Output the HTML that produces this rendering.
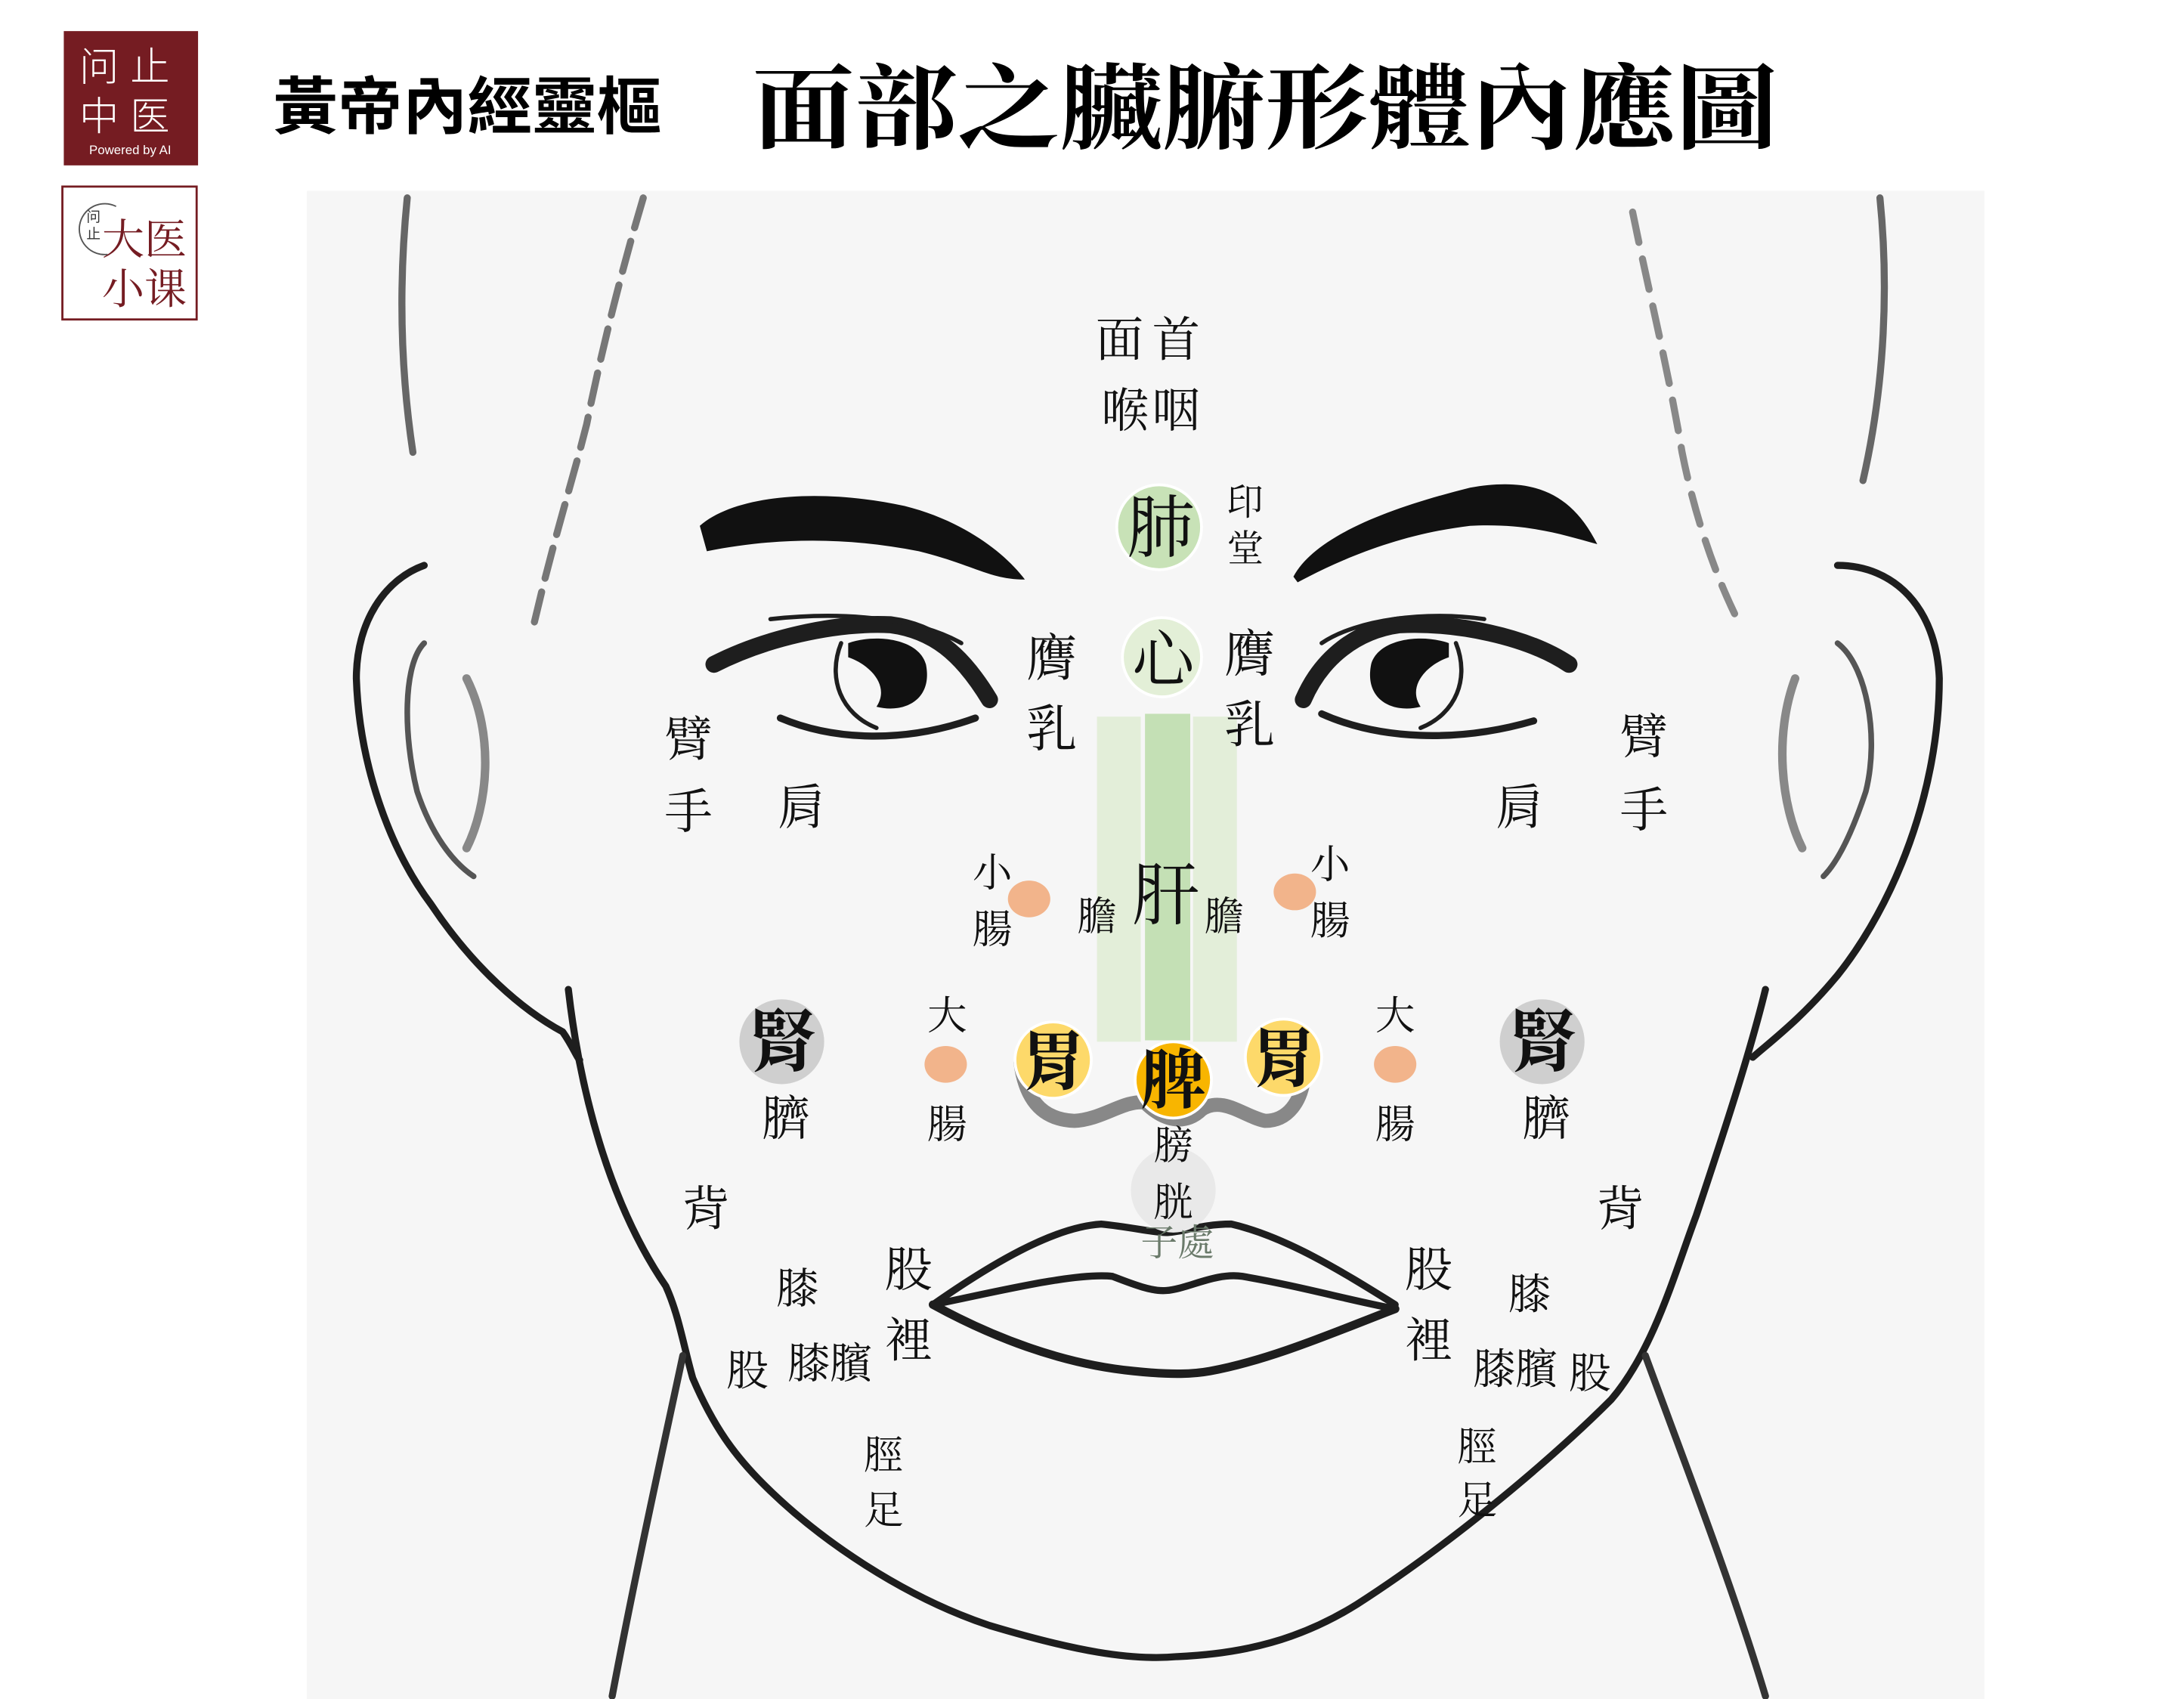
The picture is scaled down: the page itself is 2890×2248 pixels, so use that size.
<!DOCTYPE html>
<html><head><meta charset="utf-8"><style>
html,body{margin:0;padding:0;background:#fff;}
svg{display:block;}
.l{font-family:"Liberation Serif","Noto Serif CJK TC","Noto Serif CJK SC",serif;fill:#111;text-anchor:middle;}
</style></head><body>
<svg width="2890" height="2248" viewBox="0 0 1545 1202" xmlns="http://www.w3.org/2000/svg">
<rect x="0" y="0" width="1545" height="1202" fill="#fff"/>
<!-- logos -->
<rect x="45" y="22" width="95" height="95" fill="#751c22"/>
<text x="92" y="57" font-family="Liberation Sans,'Noto Sans CJK SC',sans-serif" font-size="28" fill="#fff" text-anchor="middle" font-weight="300" letter-spacing="8">问止</text>
<text x="92" y="92" font-family="Liberation Sans,'Noto Sans CJK SC',sans-serif" font-size="28" fill="#fff" text-anchor="middle" font-weight="300" letter-spacing="8">中医</text>
<text x="92" y="109" font-family="Liberation Sans,sans-serif" font-size="9" fill="#fff" text-anchor="middle">Powered by AI</text>
<rect x="44" y="132" width="95" height="94" fill="#fff" stroke="#751c22" stroke-width="1.5"/>
<path d="M82,146 A18,18 0 1 0 76,180" fill="none" stroke="#555" stroke-width="1"/>
<text x="66" y="157" font-family="'Noto Sans CJK SC',sans-serif" font-size="10" fill="#333" text-anchor="middle">问</text>
<text x="66" y="169" font-family="'Noto Sans CJK SC',sans-serif" font-size="10" fill="#333" text-anchor="middle">止</text>
<text x="102" y="180" font-family="'Noto Serif CJK SC',serif" font-size="30" fill="#751c22" text-anchor="middle">大医</text>
<text x="102" y="215" font-family="'Noto Serif CJK SC',serif" font-size="30" fill="#751c22" text-anchor="middle">小课</text>
<!-- titles -->
<text x="193" y="91" font-family="'Liberation Sans','Noto Sans CJK TC',sans-serif" font-size="44" font-weight="bold" textLength="275" lengthAdjust="spacingAndGlyphs">黃帝內經靈樞</text>
<text x="532" y="100" font-family="'Liberation Serif','Noto Serif CJK TC',serif" font-size="66" font-weight="700" textLength="726" lengthAdjust="spacingAndGlyphs">面部之臟腑形體內應圖</text>
<!-- picture background -->
<rect x="217" y="135" width="1187" height="1067" fill="#f6f6f6"/>
<g fill="none" stroke="#1e1e1e" stroke-width="5" stroke-linecap="round" stroke-linejoin="round">
<path d="M288,140 C282,200 283,260 292,320" stroke="#666"/>
<path d="M455,140 C440,190 425,250 415,300 C405,340 392,380 378,440" stroke="#777" stroke-dasharray="22 10"/>
<path d="M1330,140 C1336,200 1334,270 1318,340" stroke="#666"/>
<path d="M1155,150 C1165,200 1180,260 1190,320 C1200,370 1215,410 1230,440" stroke="#888" stroke-dasharray="22 12"/>
<path d="M300,400 C272,410 252,440 252,480 C254,540 275,600 305,640 C335,685 370,715 398,730 C405,740 408,748 410,750"/>
<path d="M300,455 C285,470 285,520 295,560 C305,590 320,610 335,620" stroke="#555" stroke-width="4"/>
<path d="M330,480 C350,520 345,570 330,600" stroke="#888" stroke-width="6"/>
<path d="M1300,400 C1340,400 1370,430 1372,480 C1372,560 1340,640 1300,690 C1275,720 1255,735 1240,748"/>
<path d="M1300,455 C1320,470 1330,520 1320,560 C1310,590 1300,610 1290,620" stroke="#555" stroke-width="4"/>
<path d="M1270,480 C1255,520 1260,570 1275,600" stroke="#888" stroke-width="6"/>
<path d="M402,700 C410,770 430,850 471,910 C480,930 483,950 490,975 C505,1010 520,1030 540,1050 C580,1090 640,1130 700,1150 C760,1168 800,1175 833,1172 C880,1170 920,1160 960,1135 C1030,1090 1100,1030 1140,990 C1170,955 1185,900 1200,860 C1220,800 1238,745 1249,700"/>
<path d="M483,959 C470,1020 450,1110 433,1200" stroke="#333"/>
<path d="M1164,959 C1190,1030 1225,1120 1249,1200" stroke="#333"/>
<path d="M660,923 C700,895 745,868 779,866 C800,868 815,872 825,872 C835,872 850,866 871,866 C910,875 950,900 987,923" stroke-width="5"/>
<path d="M660,923 C700,915 760,900 787,903 C800,908 815,914 825,913 C840,912 860,900 879,903 C920,910 955,920 987,926" stroke-width="5"/>
<path d="M660,923 C700,945 750,965 802,970 C830,973 845,972 856,970 C900,962 950,940 987,926" stroke-width="6"/>
<path d="M722,752 C725,775 735,792 760,793 C780,792 795,778 810,780 C825,795 840,795 850,785 C865,775 880,790 895,793 C912,793 920,778 922,765" stroke="#888" stroke-width="10"/>
<path d="M505,470 C540,452 590,440 630,442 C660,446 680,462 700,495" stroke-width="12"/>
<path d="M545,438 C600,432 650,438 680,455" stroke-width="3"/>
<path d="M552,508 C590,524 640,526 690,508" stroke-width="5"/>
<path d="M595,455 C585,480 595,505 620,515" stroke-width="3"/>
<path d="M1110,470 C1080,450 1030,440 990,442 C960,446 935,465 922,495" stroke-width="12"/>
<path d="M1050,438 C1010,432 960,438 935,455" stroke-width="3"/>
<path d="M935,505 C975,523 1030,526 1085,510" stroke-width="5"/>
<path d="M1030,455 C1040,480 1030,505 1005,515" stroke-width="3"/>
</g>
<path d="M600,455 C620,448 650,452 655,470 C660,495 640,505 620,500 C630,485 615,470 600,465Z" fill="#111"/>
<path d="M1025,455 C1005,448 975,452 970,470 C965,495 985,505 1005,500 C995,485 1010,470 1025,465Z" fill="#111"/>
<path d="M495,372 C520,350 580,345 640,358 C680,368 710,390 725,410 C700,410 690,400 650,390 C600,380 550,380 500,390Z" fill="#111"/>
<path d="M915,408 C930,380 980,360 1040,345 C1080,338 1110,345 1130,385 C1105,378 1080,370 1040,372 C990,378 950,395 918,412Z" fill="#111"/>
<rect x="776" y="507" width="31" height="230" fill="#e3eed9"/>
<rect x="810" y="505" width="32" height="231" fill="#c4e0b5"/>
<rect x="844" y="507" width="31" height="230" fill="#e3eed9"/>
<circle cx="820" cy="373" r="30" fill="#c8e2b7" stroke="#fff" stroke-width="2"/>
<circle cx="822" cy="465" r="28" fill="#e3efd7" stroke="#fff" stroke-width="2"/>
<circle cx="745" cy="750" r="27" fill="#fdd96a" stroke="#fff" stroke-width="2"/>
<circle cx="908" cy="748" r="27" fill="#fdd96a" stroke="#fff" stroke-width="2"/>
<circle cx="830" cy="764" r="27" fill="#f8b500" stroke="#fff" stroke-width="2"/>
<circle cx="830" cy="842" r="30" fill="#e9e9e9"/>
<circle cx="553" cy="737" r="30" fill="#cfcfcf"/>
<circle cx="1091" cy="737" r="30" fill="#cfcfcf"/>
<ellipse cx="728" cy="636" rx="15" ry="13" fill="#f2b48b"/>
<ellipse cx="916" cy="631" rx="15" ry="13" fill="#f2b48b"/>
<ellipse cx="669" cy="753" rx="15" ry="13" fill="#f2b48b"/>
<ellipse cx="987" cy="753" rx="15" ry="13" fill="#f2b48b"/>
<g class="l" font-size="34">
<text x="815" y="252" letter-spacing="6">面首</text>
<text x="815" y="302" letter-spacing="2">喉咽</text>
<text x="881" y="364" font-size="26">印</text>
<text x="881" y="397" font-size="26">堂</text>
<text x="821" y="390" font-size="48">肺</text>
<text x="823" y="482" font-size="44">心</text>
<text x="744" y="478" font-size="36">膺</text>
<text x="744" y="528" font-size="36">乳</text>
<text x="884" y="475" font-size="36">膺</text>
<text x="884" y="525" font-size="36">乳</text>
<text x="487" y="535">臂</text>
<text x="487" y="586">手</text>
<text x="567" y="583">肩</text>
<text x="1075" y="583">肩</text>
<text x="1163" y="533">臂</text>
<text x="1163" y="585">手</text>
<text x="702" y="627" font-size="28">小</text>
<text x="702" y="667" font-size="28">腸</text>
<text x="776" y="658" font-size="28">膽</text>
<text x="825" y="650" font-size="48">肝</text>
<text x="866" y="658" font-size="28">膽</text>
<text x="941" y="621" font-size="28">小</text>
<text x="941" y="661" font-size="28">腸</text>
<text x="670" y="728" font-size="28">大</text>
<text x="670" y="805" font-size="28">腸</text>
<text x="987" y="728" font-size="28">大</text>
<text x="987" y="805" font-size="28">腸</text>
<text x="554" y="754" font-size="48" font-weight="bold">腎</text>
<text x="1092" y="754" font-size="48" font-weight="bold">腎</text>
<text x="556" y="803">臍</text>
<text x="1094" y="803">臍</text>
<text x="745" y="767" font-size="46" font-weight="bold">胃</text>
<text x="908" y="765" font-size="46" font-weight="bold">胃</text>
<text x="830" y="780" font-size="46" font-weight="bold">脾</text>
<text x="830" y="820" font-size="28">膀</text>
<text x="830" y="860" font-size="28">胱</text>
<text x="833" y="888" font-size="26" fill="#6a7a6a">子處</text>
<text x="499" y="867">背</text>
<text x="1146" y="867">背</text>
<text x="643" y="910">股</text>
<text x="643" y="960">裡</text>
<text x="1011" y="910">股</text>
<text x="1011" y="960">裡</text>
<text x="564" y="922" font-size="30">膝</text>
<text x="529" y="980" font-size="30">股</text>
<text x="587" y="975" font-size="30">膝臏</text>
<text x="1082" y="926" font-size="30">膝</text>
<text x="1072" y="979" font-size="30">膝臏</text>
<text x="1125" y="982" font-size="30">股</text>
<text x="625" y="1039" font-size="28">脛</text>
<text x="625" y="1078" font-size="28">足</text>
<text x="1045" y="1033" font-size="28">脛</text>
<text x="1045" y="1071" font-size="28">足</text>
</g>
</svg>
</body></html>
